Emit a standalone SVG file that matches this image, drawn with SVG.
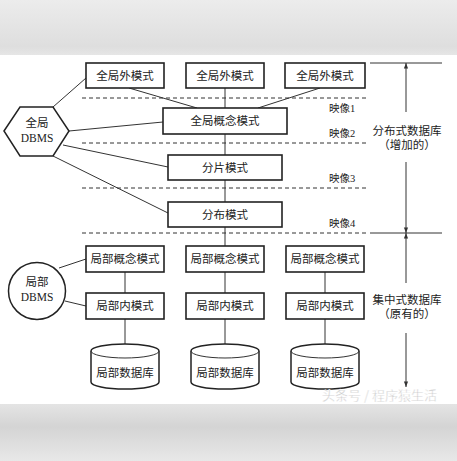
<svg xmlns="http://www.w3.org/2000/svg" width="457" height="461" viewBox="0 0 457 461">
<defs>
<linearGradient id="topg" x1="0" y1="0" x2="0" y2="1">
<stop offset="0" stop-color="#ececec"/><stop offset="0.85" stop-color="#dedede"/><stop offset="1" stop-color="#e6e6e6"/>
</linearGradient>
<linearGradient id="botg" x1="0" y1="0" x2="0" y2="1">
<stop offset="0" stop-color="#e4e4e4"/><stop offset="0.4" stop-color="#d4d4d4"/><stop offset="1" stop-color="#e8e8e8"/>
</linearGradient>
<marker id="arr" viewBox="0 0 8 10" refX="8" refY="5" markerWidth="6" markerHeight="7" orient="auto-start-reverse" markerUnits="userSpaceOnUse">
<path d="M0,2 L8,5 L0,8 Z" fill="#333"/>
</marker>
<style>
.box{fill:#fff;stroke:#222;stroke-width:1.6}
.shape{fill:#fff;stroke:#222;stroke-width:1.5}
.ln{stroke:#333;stroke-width:1;fill:none}
.dash{stroke:#333;stroke-width:1;stroke-dasharray:4 3;fill:none}
.t{font-family:"Liberation Serif","Noto Sans CJK SC",serif;font-size:11.5px;fill:#222;text-anchor:middle;dominant-baseline:central}
.lb{font-family:"Liberation Serif","Noto Sans CJK SC",serif;font-size:10.5px;fill:#222;dominant-baseline:central}
.wm{font-family:"Noto Sans CJK SC",sans-serif;font-size:13px;fill:#c4c4c4;stroke:#fff;stroke-width:0.4}
</style>
</defs>
<rect x="0" y="0" width="457" height="461" fill="#fff"/>
<rect x="0" y="0" width="457" height="55" fill="url(#topg)"/>
<rect x="0" y="404" width="457" height="57" fill="url(#botg)"/>

<g id="connectors">
<!-- dashed layer lines -->
<line class="dash" x1="82" y1="98" x2="368" y2="98"/>
<line class="dash" x1="82" y1="143" x2="368" y2="143"/>
<line class="dash" x1="82" y1="188" x2="368" y2="188"/>
<line class="dash" x1="82" y1="233" x2="368" y2="233"/>
<!-- global DBMS links -->
<line class="ln" x1="53" y1="107" x2="86" y2="78"/>
<line class="ln" x1="69" y1="131" x2="163" y2="122"/>
<line class="ln" x1="63" y1="145" x2="168" y2="167"/>
<line class="ln" x1="53" y1="156" x2="168" y2="213"/>
<!-- external to conceptual -->
<line class="ln" x1="129" y1="88" x2="197" y2="108"/>
<line class="ln" x1="225" y1="88" x2="225" y2="108"/>
<line class="ln" x1="320" y1="88" x2="258" y2="108"/>
<!-- central spine -->
<line class="ln" x1="225" y1="134" x2="225" y2="155"/>
<line class="ln" x1="225" y1="180" x2="225" y2="202"/>
<line class="ln" x1="225" y1="227" x2="225" y2="246"/>
<!-- local columns -->
<line class="ln" x1="125" y1="272" x2="125" y2="293"/>
<line class="ln" x1="125" y1="319" x2="125" y2="345"/>
<line class="ln" x1="225" y1="272" x2="225" y2="293"/>
<line class="ln" x1="225" y1="319" x2="225" y2="345"/>
<line class="ln" x1="325" y1="272" x2="325" y2="293"/>
<line class="ln" x1="325" y1="319" x2="325" y2="345"/>
<!-- local DBMS links -->
<line class="ln" x1="59" y1="268" x2="86" y2="259"/>
<line class="ln" x1="65" y1="301" x2="86" y2="306"/>
<!-- right dimension lines -->
<line class="ln" x1="370" y1="63" x2="442" y2="63"/>
<line class="ln" x1="370" y1="233" x2="442" y2="233"/>
<line class="ln" x1="406" y1="112" x2="406" y2="63" marker-end="url(#arr)"/>
<line class="ln" x1="406" y1="162" x2="406" y2="233" marker-end="url(#arr)"/>
<line class="ln" x1="406" y1="283" x2="406" y2="233" marker-end="url(#arr)"/>
<line class="ln" x1="406" y1="333" x2="406" y2="387" marker-end="url(#arr)"/>
</g>

<g id="global-dbms">
<polygon class="shape" points="4,131 20,107 53,107 69,131 53,156 20,156"/>
<text class="t" x="37" y="123">全局</text>
<text class="t" x="37" y="138">DBMS</text>
</g>
<g id="ext1"><rect class="box" x="86" y="63" width="78" height="25"/><text class="t" x="125" y="75.5">全局外模式</text></g>
<g id="ext2"><rect class="box" x="186" y="63" width="78" height="25"/><text class="t" x="225" y="75.5">全局外模式</text></g>
<g id="ext3"><rect class="box" x="285" y="63" width="80" height="25"/><text class="t" x="325" y="75.5">全局外模式</text></g>
<g id="global-concept"><rect class="box" x="163" y="108" width="124" height="26"/><text class="t" x="225" y="121">全局概念模式</text></g>
<g id="fragment"><rect class="box" x="168" y="155" width="114" height="25"/><text class="t" x="225" y="167.5">分片模式</text></g>
<g id="distribution"><rect class="box" x="168" y="202" width="114" height="25"/><text class="t" x="225" y="214.5">分布模式</text></g>

<g id="map-labels">
<text class="lb" x="329" y="108">映像1</text>
<text class="lb" x="329" y="133">映像2</text>
<text class="lb" x="329" y="178">映像3</text>
<text class="lb" x="329" y="223">映像4</text>
</g>

<g id="dist-db-label">
<text class="t" x="407" y="131">分布式数据库</text>
<text class="t" x="407" y="145">（增加的）</text>
</g>
<g id="central-db-label">
<text class="t" x="407" y="300">集中式数据库</text>
<text class="t" x="407" y="314">（原有的）</text>
</g>

<g id="local-dbms">
<circle class="shape" cx="37" cy="291" r="28.5"/>
<text class="t" x="37" y="282">局部</text>
<text class="t" x="37" y="297">DBMS</text>
</g>

<g id="lc1"><rect class="box" x="86" y="246" width="78" height="26"/><text class="t" x="125" y="259">局部概念模式</text></g>
<g id="lc2"><rect class="box" x="186" y="246" width="78" height="26"/><text class="t" x="225" y="259">局部概念模式</text></g>
<g id="lc3"><rect class="box" x="286" y="246" width="78" height="26"/><text class="t" x="325" y="259">局部概念模式</text></g>
<g id="li1"><rect class="box" x="86" y="293" width="78" height="26"/><text class="t" x="125" y="306">局部内模式</text></g>
<g id="li2"><rect class="box" x="186" y="293" width="78" height="26"/><text class="t" x="225" y="306">局部内模式</text></g>
<g id="li3"><rect class="box" x="286" y="293" width="78" height="26"/><text class="t" x="325" y="306">局部内模式</text></g>

<g id="db1">
<path class="shape" d="M91,351 A34,7 0 0 1 159,351 L159,382 A34,7 0 0 1 91,382 Z"/>
<path class="ln" d="M91,351 A34,7 0 0 0 159,351" stroke-width="1.5"/>
<text class="t" x="125" y="373">局部数据库</text>
</g>
<g id="db2">
<path class="shape" d="M191,351 A34,7 0 0 1 259,351 L259,382 A34,7 0 0 1 191,382 Z"/>
<path class="ln" d="M191,351 A34,7 0 0 0 259,351" stroke-width="1.5"/>
<text class="t" x="225" y="373">局部数据库</text>
</g>
<g id="db3">
<path class="shape" d="M291,351 A34,7 0 0 1 359,351 L359,382 A34,7 0 0 1 291,382 Z"/>
<path class="ln" d="M291,351 A34,7 0 0 0 359,351" stroke-width="1.5"/>
<text class="t" x="325" y="373">局部数据库</text>
</g>

<text class="wm" x="322" y="400">头条号 / 程序猿生活</text>
</svg>
